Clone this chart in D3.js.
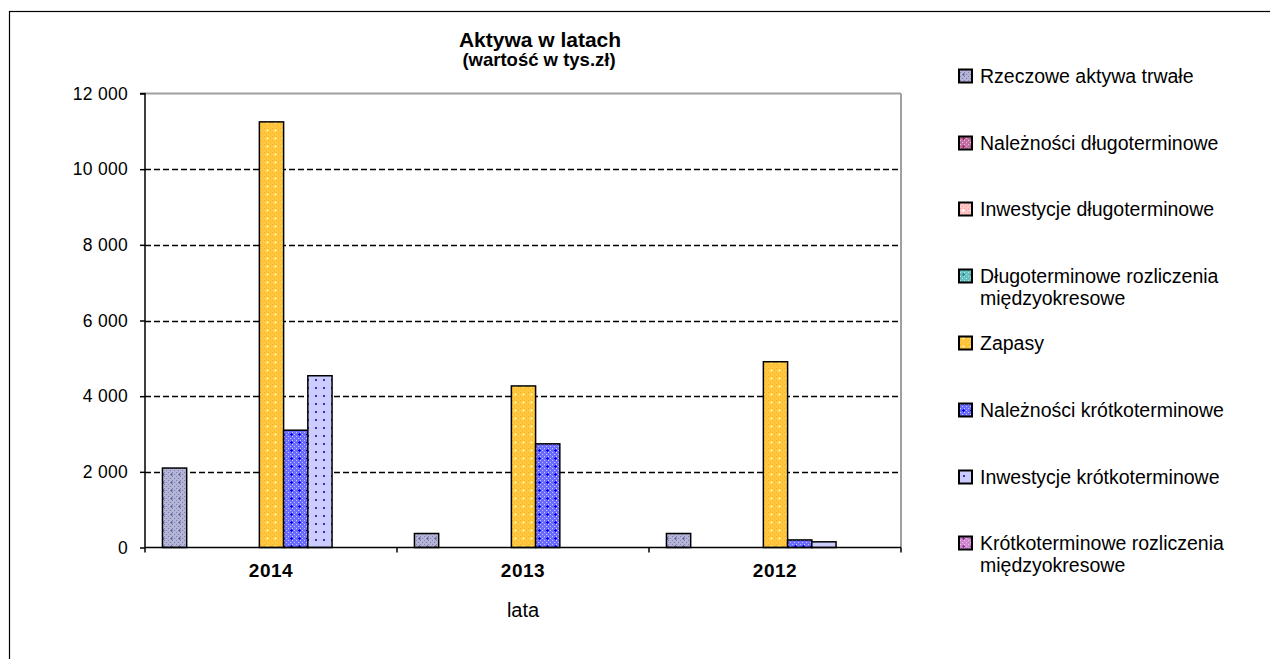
<!DOCTYPE html>
<html><head><meta charset="utf-8">
<script src="https://cdn.jsdelivr.net/npm/d3@7"></script>
<style>body{margin:0;background:#fff;}svg{display:block;font-family:"Liberation Sans",Arial,sans-serif;}</style>
</head><body>
<svg id="c" width="1270" height="659"></svg>
<script>
const categories = ["2014","2013","2012"];
const seriesNames = ["Rzeczowe aktywa trwałe","Należności długoterminowe","Inwestycje długoterminowe",
  "Długoterminowe rozliczenia międzyokresowe","Zapasy","Należności krótkoterminowe",
  "Inwestycje krótkoterminowe","Krótkoterminowe rozliczenia międzyokresowe"];
const rzeczowe = [2100, 370, 370];
const naleznosciDl = [0, 0, 0];
const inwestycjeDl = [0, 0, 0];
const rozliczeniaDl = [0, 0, 0];
const zapasy = [11250, 4270, 4910];
const naleznosciKr = [3100, 2740, 200];
const inwestycjeKr = [4540, 0, 150];
const rozliczeniaKr = [0, 0, 0];
const seriesValues = [rzeczowe, naleznosciDl, inwestycjeDl, rozliczeniaDl, zapasy, naleznosciKr, inwestycjeKr, rozliczeniaKr];
const yTicks = [0, 2000, 4000, 6000, 8000, 10000, 12000];

const pal = [
  {base:"#b4b4d6", dot:"#8080b0", mark:"#7070a8"},
  {base:"#c070a0", dot:"#f0c0dc", mark:"#993366"},
  {base:"#ffc8c8", dot:"#ff9a9a", mark:"#ffffff"},
  {base:"#66c0c0", dot:"#b0e8e8", mark:"#338888"},
  {base:"#ffc840", dot:"#ffb020", mark:"#ffee90"},
  {base:"#6a6aff", dot:"#c8c8ff", mark:"#0000ff"},
  {base:"#ccccff", dot:"#ccccff", mark:"#3333aa"},
  {base:"#cc88cc", dot:"#f0c8f0", mark:"#993399"}
];

const svg = d3.select("#c");
const defs = svg.append("defs");
pal.forEach((p,i)=>{
  const pt = defs.append("pattern").attr("id","p"+i).attr("patternUnits","userSpaceOnUse")
    .attr("width",8).attr("height",8);
  pt.append("rect").attr("width",8).attr("height",8).attr("fill",p.base);
  if (i!==6){
    [[0,0],[2,2],[4,0],[6,2],[0,4],[2,6],[4,4],[6,6]].forEach(([x,y])=>
      pt.append("rect").attr("x",x).attr("y",y).attr("width",1).attr("height",1).attr("fill",p.dot));
    pt.append("rect").attr("x",3).attr("y",1).attr("width",1).attr("height",3).attr("fill",p.mark);
    pt.append("rect").attr("x",2).attr("y",2).attr("width",3).attr("height",1).attr("fill",p.mark);
  } else {
    pt.append("rect").attr("x",3).attr("y",3).attr("width",2).attr("height",2).attr("fill",p.mark);
  }
});

// outer border
svg.append("rect").attr("x",9.5).attr("y",11.5).attr("width",1300).attr("height",700)
  .attr("fill","none").attr("stroke","#000").attr("stroke-width",1.2);

const L=145, R=901, T=93.5, B=547.5;
const x0 = d3.scaleBand().domain(categories).range([L,R]).padding(0);
const x1 = d3.scaleBand().domain(d3.range(seriesNames.length)).range([0,x0.bandwidth()])
  .paddingInner(0).paddingOuter(1.2).align(0.3);
const y = d3.scaleLinear().domain([0,12000]).range([B,T]);

// gridlines
const g = svg.append("g");
g.selectAll("line.grid").data(yTicks.filter(t=>t>0 && t<12000)).join("line")
  .attr("x1",L).attr("x2",R).attr("y1",d=>Math.round(y(d))+0.5).attr("y2",d=>Math.round(y(d))+0.5)
  .attr("stroke","#000").attr("stroke-width",1.5).attr("stroke-dasharray","6,3");
// plot border gray top/right
g.append("line").attr("x1",L).attr("x2",R).attr("y1",T).attr("y2",T).attr("stroke","#a0a0a0").attr("stroke-width",2);
g.append("line").attr("x1",R).attr("x2",R).attr("y1",T).attr("y2",B).attr("stroke","#a0a0a0").attr("stroke-width",2);

// bars
categories.forEach((c,ci)=>{
  seriesValues.forEach((vals,si)=>{
    const v = vals[ci];
    if (v<=0) return;
    svg.append("rect").attr("x",x0(c)+x1(si)).attr("y",y(v))
      .attr("width",x1.bandwidth()).attr("height",B-y(v))
      .attr("fill","url(#p"+si+")").attr("stroke","#000").attr("stroke-width",1.5);
  });
});

// y axis
const ya = svg.append("g").attr("transform",`translate(${L},0)`)
  .call(d3.axisLeft(y).tickValues(yTicks).tickSize(5).tickPadding(12)
    .tickFormat(d=>d3.format(",")(d).replace(/,/g," ")));
ya.select(".domain").attr("stroke","#000").attr("stroke-width",1.5).attr("d",`M-5,${T}H0V${B}`);
ya.selectAll(".tick line").attr("stroke","#000").attr("stroke-width",1.5);
ya.selectAll("text").attr("font-size",17.5).attr("fill","#000").attr("letter-spacing",0.3)
  .attr("font-family","Liberation Sans, Arial, sans-serif");

// x axis
const xa = svg.append("g").attr("transform",`translate(0,${B})`)
  .call(d3.axisBottom(x0).tickSize(0).tickPadding(16));
xa.select(".domain").attr("stroke","#000").attr("stroke-width",1.5).attr("d",`M${L},0H${R}`);
xa.selectAll("text").attr("font-size",19).attr("font-weight","bold").attr("fill","#000")
  .attr("letter-spacing",0.5).attr("font-family","Liberation Sans, Arial, sans-serif");
svg.append("g").selectAll("line").data(categories.map((c,i)=>i).concat([categories.length])).join("line")
  .attr("x1",i=>L+i*x0.bandwidth()).attr("x2",i=>L+i*x0.bandwidth())
  .attr("y1",B).attr("y2",B+5).attr("stroke","#000").attr("stroke-width",1.5);

svg.append("text").attr("x",(L+R)/2).attr("y",617).attr("text-anchor","middle")
  .attr("font-size",20).text("lata");

// title
svg.append("text").attr("x",540).attr("y",47).attr("text-anchor","middle")
  .attr("font-size",21).attr("font-weight","bold").text("Aktywa w latach");
svg.append("text").attr("x",539).attr("y",66).attr("text-anchor","middle")
  .attr("font-size",18.5).attr("font-weight","bold").text("(wartość w tys.zł)");

// legend
const legendLines = [["Rzeczowe aktywa trwałe"],["Należności długoterminowe"],["Inwestycje długoterminowe"],
  ["Długoterminowe rozliczenia","międzyokresowe"],["Zapasy"],["Należności krótkoterminowe"],
  ["Inwestycje krótkoterminowe"],["Krótkoterminowe rozliczenia","międzyokresowe"]];
const lg = svg.append("g");
const legY = [76,143,209,276,343,410,477,543];
seriesNames.forEach((n,i)=>{
  const cy = legY[i];
  lg.append("rect").attr("x",959).attr("y",cy-6.5).attr("width",13).attr("height",13)
    .attr("fill","url(#p"+i+")").attr("stroke","#000").attr("stroke-width",2);
  const t = lg.append("text").attr("x",980).attr("y",cy+6.5).attr("font-size",19.5);
  legendLines[i].forEach((l,k)=>t.append("tspan").attr("x",980).attr("dy",k?22:0).text(l));
});
</script>
</body></html>
